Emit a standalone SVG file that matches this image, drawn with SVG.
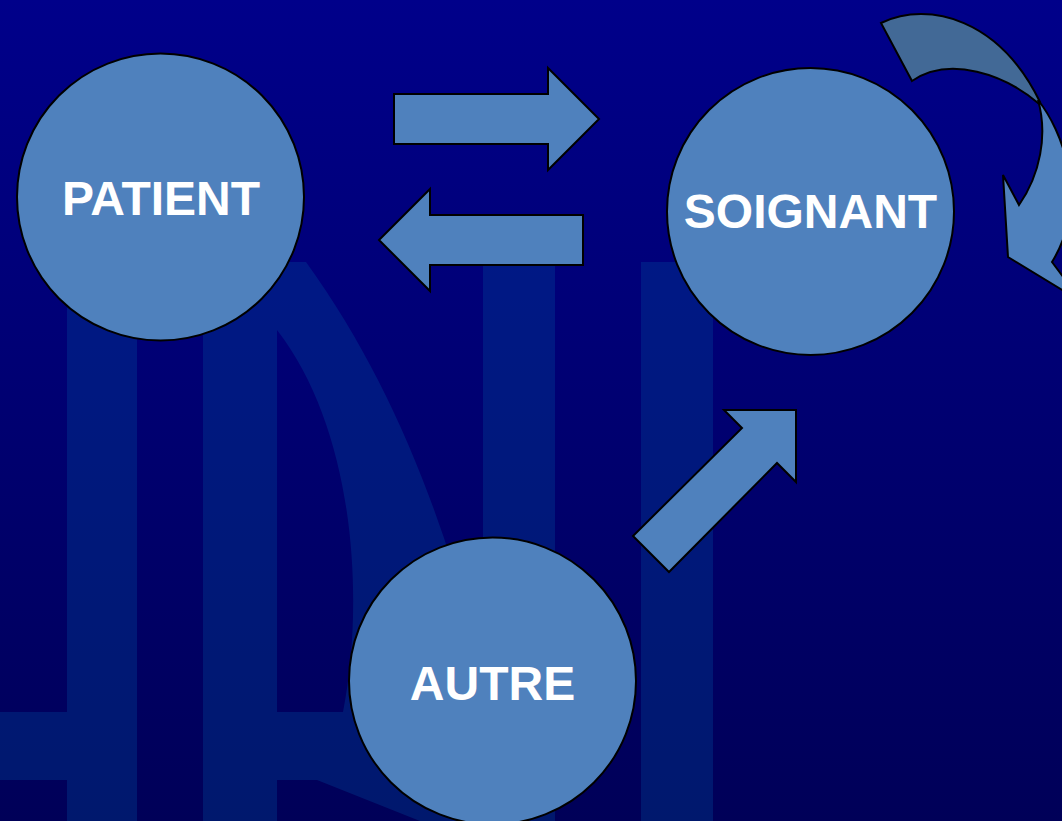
<svg xmlns="http://www.w3.org/2000/svg" width="1062" height="821" viewBox="0 0 1062 821">
  <defs>
    <linearGradient id="bg" x1="0" y1="0" x2="0" y2="1">
      <stop offset="0" stop-color="#00008A"/>
      <stop offset="1" stop-color="#000058"/>
    </linearGradient>
    <style>
      .node { fill: #4F81BD; stroke: #000000; stroke-width: 2; }
      .arrow { fill: #4F81BD; stroke: #000000; stroke-width: 2; stroke-linejoin: miter; }
      .back { fill: #426996; stroke: #000000; stroke-width: 2; }
      .label { font-family: "Liberation Sans", Arial, sans-serif; font-weight: bold; font-size: 48px; fill: #FFFFFF; text-anchor: middle; }
    </style>
  </defs>

  <rect x="0" y="0" width="1062" height="821" fill="url(#bg)"/>

  <!-- faint background watermark -->
  <g id="watermark" fill="#0050A0" opacity="0.3">
    <rect x="67" y="262" width="70" height="559"/>
    <rect x="-10" y="712" width="77" height="68"/>
    <rect x="203" y="262" width="74" height="559"/>
    <path d="M277,262 L306,262 C420,420 470,600 520,821 L420,821 L317,780 L277,780 L277,712 L343,712 C365,600 355,430 277,330 Z"/>
    <rect x="277" y="712" width="120" height="68"/>
    <rect x="483" y="264" width="72" height="557"/>
    <rect x="641" y="262" width="72" height="559"/>
  </g>

  <g id="connectors">
    <polygon id="patient-to-soignant" class="arrow" points="394,94 548,94 548,68 599,119 548,170 548,144 394,144"/>
    <polygon id="soignant-to-patient" class="arrow" points="583,215 430,215 430,189 379,240 430,291 430,265 583,265"/>
    <polygon id="autre-to-soignant" class="arrow" points="724,410 796,410 796,482 777,463 669,572 633,536 742,428"/>
    <g id="soignant-loop">
      <path class="back" d="M881,23 C930,0 1000,20 1040,102 L1038,103 C1005,75 950,55 912,81 Z"/>
      <path class="arrow" d="M1038,100 C1062,130 1090,200 1052,262 L1082,302 L1008,257 L1003,175 L1019,205 C1040,175 1048,135 1038,100 Z"/>
    </g>
  </g>

  <g id="node-patient">
    <circle class="node" cx="160.5" cy="197" r="143.5"/>
    <text class="label" x="161" y="215">PATIENT</text>
  </g>
  <g id="node-soignant">
    <circle class="node" cx="810.5" cy="211.5" r="143.5"/>
    <text class="label" x="810.5" y="228">SOIGNANT</text>
  </g>
  <g id="node-autre">
    <circle class="node" cx="492.5" cy="681" r="143.5"/>
    <text class="label" x="492.5" y="700">AUTRE</text>
  </g>
</svg>
